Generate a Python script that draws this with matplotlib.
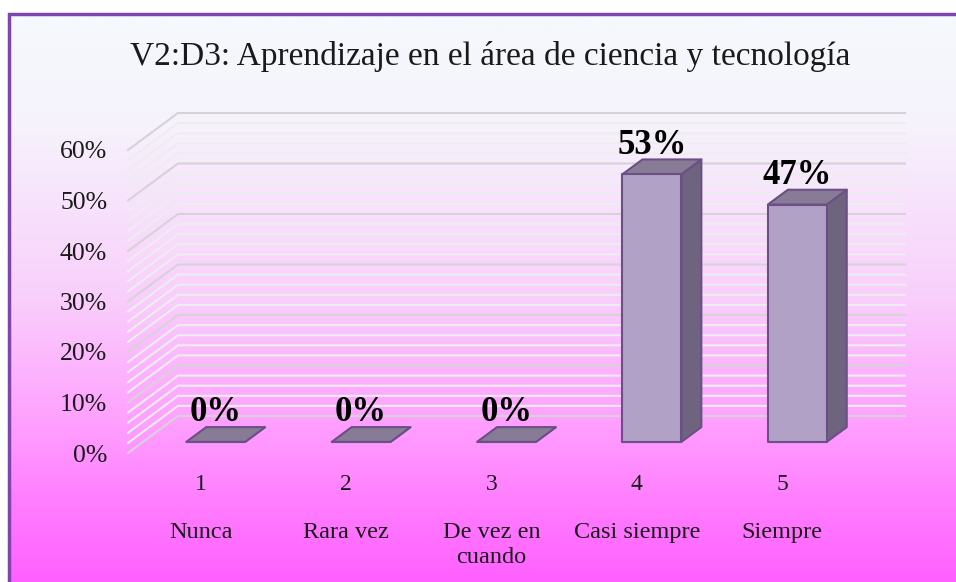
import numpy as np
import matplotlib
matplotlib.use("Agg")
import matplotlib.pyplot as plt
from matplotlib.colors import LinearSegmentedColormap
from matplotlib.patches import Polygon

categorias = ["1", "2", "3", "4", "5"]
nombres = ["Nunca", "Rara vez", "De vez en\ncuando", "Casi siempre", "Siempre"]
valores = [0, 0, 0, 53, 47]
etiquetas = ["0%", "0%", "0%", "53%", "47%"]
ticks_y = [0, 10, 20, 30, 40, 50, 60]
ticks_menores = [v for v in range(0, 61, 2) if v % 10 != 0]
titulo = "V2:D3: Aprendizaje en el área de ciencia y tecnología"

W, H = 956, 582
FUENTE = "Liberation Serif"
DX, DY = 50, 37  # profundidad del 3D en pixeles
# esquina del marco en pixeles de la imagen (sigue hasta el borde derecho e inferior)
MX0, MY0 = 9, 14

fig = plt.figure(figsize=(W / 100, H / 100), dpi=100, facecolor="white")

# fondo con degradado
fondo = fig.add_axes([MX0 / W, 0, 1 - MX0 / W, 1 - MY0 / H], zorder=0)
cmap = LinearSegmentedColormap.from_list(
    "fondo", [(0, "#f5f9fc"), (0.2, "#f6f2fc"), (0.5, "#f9cffb"), (0.72, "#ffa0ff"),
              (0.85, "#ff80ff"), (1, "#ff60ff")])
fondo.imshow(np.linspace(0, 1, 256)[:, None], aspect="auto", cmap=cmap, extent=[0, 1, 0, 1])
fondo.axis("off")
fondo.plot([0, 0, 1], [0, 1, 1], transform=fondo.transAxes, color="#7f45ad", lw=2.5,
           clip_on=False, solid_joinstyle="miter")

# el eje es el plano frontal del grafico
ax = fig.add_axes([128 / W, 1 - 453 / H, 727 / W, 303 / H], zorder=1)
ax.set_xlim(-0.5, 4.5)
ax.set_ylim(0, 60)
ax.patch.set_alpha(0)
for s in ax.spines.values():
    s.set_visible(False)


def proy(x, v, d):
    # dato + profundidad (0 frente, 1 fondo) a pixeles
    px, py = ax.transData.transform((x, v))
    return (px + d * DX, py + d * DY)


def cara(puntos, color, zorder):
    ax.add_patch(Polygon(puntos, closed=True, transform=None, facecolor=color,
                         edgecolor="#6a5085", lw=1.5, joinstyle="round",
                         clip_on=False, zorder=zorder))


# rejilla en pared lateral y pared de fondo
for v in ticks_menores + ticks_y:
    color = "#d6d3d6" if v % 10 == 0 else "#ededf0"
    pts = [proy(-0.5, v, 0), proy(-0.5, v, 1), proy(4.5, v, 1)]
    xs, ys = zip(*pts)
    ax.plot(xs, ys, transform=None, color=color, lw=1.5, clip_on=False, zorder=1)

# barras 3D
ANCHO = 0.405
D0, D1 = 0.3, 0.7
for i, v in enumerate(valores):
    x0, x1 = i - ANCHO / 2, i + ANCHO / 2
    cara([proy(x1, 0, D0), proy(x1, 0, D1), proy(x1, v, D1), proy(x1, v, D0)], "#6f6480", 3)
    cara([proy(x0, 0, D0), proy(x1, 0, D0), proy(x1, v, D0), proy(x0, v, D0)], "#b2a1c6", 4)
    cara([proy(x0, v, D0), proy(x1, v, D0), proy(x1, v, D1), proy(x0, v, D1)], "#887b95", 3)
    px, py = proy(i, v, D0)
    ax.annotate(etiquetas[i], xy=(px, py), xycoords="figure pixels", xytext=(0, 21),
                textcoords="offset points", ha="center", va="center",
                fontsize=25, fontweight="bold", family=FUENTE, color="black",
                annotation_clip=False, zorder=6)

ax.set_yticks(ticks_y)
ax.set_yticklabels([f"{v}%" for v in ticks_y], fontsize=18.5, family=FUENTE, color="#1a1a1a")
ax.tick_params(axis="y", length=0, pad=15)
ax.set_xticks(range(len(categorias)))
ax.set_xticklabels(categorias, fontsize=17, family=FUENTE, color="#1a1a1a")
ax.tick_params(axis="x", length=0, pad=15)

# segundo nivel de categorias
for i, n in enumerate(nombres):
    ax.annotate(n, xy=(i, 0), xycoords=ax.get_xaxis_transform(), xytext=(0, -50),
                textcoords="offset points", ha="center", va="top",
                fontsize=17.5, family=FUENTE, color="#1a1a1a", linespacing=1.25,
                annotation_clip=False)

fig.text(490 / W, 1 - 56 / H, titulo, ha="center", va="center", fontsize=24,
         family=FUENTE, color="#1a1a1a")

fig.savefig("out.png", dpi=100)
